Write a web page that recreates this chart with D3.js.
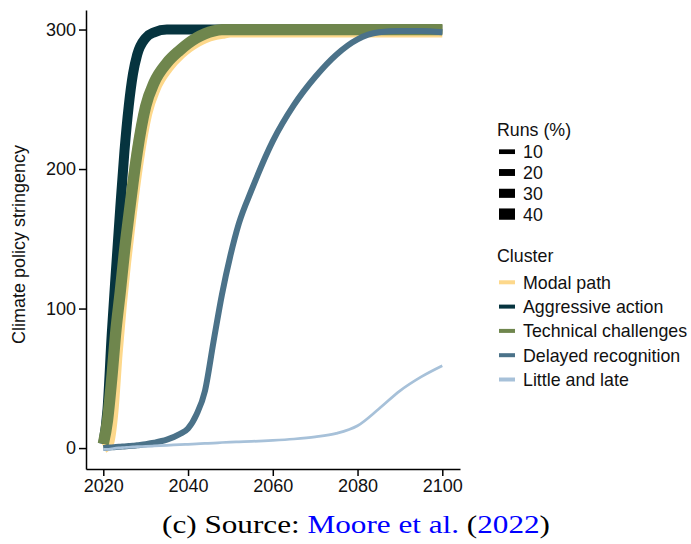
<!DOCTYPE html>
<html>
<head>
<meta charset="utf-8">
<script src="https://cdn.jsdelivr.net/npm/d3@7"></script>
<style>
  body { margin: 0; background: #fff; }
  svg { display: block; font-family: "Liberation Sans", Arial, sans-serif; }
</style>
</head>
<body>
<div id="chart"></div>
<script>
// values
const years = [2020, 2021, 2022, 2023, 2024, 2025, 2026, 2027, 2028, 2030, 2032, 2035, 2038, 2040,
    2042, 2044, 2046, 2048, 2050, 2052, 2055, 2060, 2065, 2070, 2075, 2080, 2085, 2090, 2095, 2100];

const modalPath   = [1, 4, 26, 68, 103, 133, 159, 184, 206, 240, 258, 273, 283, 288,
    292, 295, 297, 298, 299, 299, 299, 299, 299, 299, 299, 299, 299, 299, 299, 299];
const aggressive  = [3, 28, 82, 128, 172, 213, 245, 268, 282, 294, 298, 300, 300, 300,
    300, 300, 300, 300, 300, 300, 300, 300, 300, 300, 300, 300, 300, 300, 300, 300];
const technical   = [3, 20, 50, 85, 112, 141, 166, 190, 212, 245, 262, 276, 285, 290,
    294, 297, 299, 300, 300, 300, 300, 300, 300, 300, 300, 300, 300, 300, 300, 300];
const delayed     = [0, 0.3, 0.5, 0.8, 1, 1.2, 1.4, 1.6, 2, 2.8, 3.8, 6, 10, 14,
    24, 41, 76, 110, 138, 161, 185, 220, 246, 266, 282, 293, 298, 299, 299, 298];
const littleLate  = [-1, -1, -0.5, 0, 0.2, 0.4, 0.6, 0.8, 1, 1.2, 1.5, 2, 2.4, 2.7,
    3, 3.3, 3.6, 4, 4.3, 4.5, 4.8, 5.5, 6.5, 8, 10.5, 16, 28, 41, 51, 59];

const clusters = ["Modal path", "Aggressive action", "Technical challenges", "Delayed recognition", "Little and late"];
const clusterColors = ["#fdd88b", "#06343f", "#6f864d", "#4b7289", "#a7c1d9"];
const clusterRuns = [49, 34, 40, 16, 1];
const runLevels = [10, 20, 30, 40];

const xTicks = [2020, 2040, 2060, 2080, 2100];
const yTicks = [0, 100, 200, 300];

const series = [modalPath, aggressive, technical, delayed, littleLate].map((vals, i) => ({
    name: clusters[i],
    color: clusterColors[i],
    runs: clusterRuns[i],
    values: years.map((yr, j) => ({year: yr, value: vals[j]}))
}));

const width = 691, height = 544;
const margin = {top: 10, left: 86, right: 231, bottom: 75};

const svg = d3.select("#chart")
    .append("svg")
    .attr("width", width)
    .attr("height", height);

const x = d3.scaleLinear()
    .domain([2015.92, 2104.18])
    .range([margin.left, width - margin.right]);

const y = d3.scaleLinear()
    .domain([-15, 314])
    .range([height - margin.bottom, margin.top]);

const lineWidth = d3.scaleLinear()
    .domain([0, 40])
    .range([2.5, 11.3]);

// axes
const xAxis = svg.append("g")
    .attr("transform", `translate(0,${height - margin.bottom})`)
    .call(d3.axisBottom(x).tickValues(xTicks).tickFormat(d3.format("d")).tickSize(7).tickSizeOuter(0).tickPadding(3));

const yAxis = svg.append("g")
    .attr("transform", `translate(${margin.left},0)`)
    .call(d3.axisLeft(y).tickValues(yTicks).tickSize(7).tickSizeOuter(0).tickPadding(3));

[xAxis, yAxis].forEach(ax => {
    ax.select(".domain").attr("stroke", "#000").attr("stroke-width", 1.5);
    ax.selectAll(".tick line").attr("stroke", "#000").attr("stroke-width", 1.5);
    ax.selectAll(".tick text")
        .attr("fill", "#111")
        .style("font-size", "18px")
        .style("font-family", "'Liberation Sans', Arial, sans-serif");
});

svg.append("text")
    .attr("transform", `translate(25,${(y(-15) + y(314)) / 2 + 5}) rotate(-90)`)
    .attr("text-anchor", "middle")
    .style("font-size", "18px")
    .attr("fill", "#111")
    .text("Climate policy stringency");

// lines
const line = d3.line()
    .x(d => x(d.year))
    .y(d => y(d.value))
    .curve(d3.curveMonotoneX);

svg.selectAll(".cluster-line")
    .data(series)
    .enter().append("path")
    .attr("class", "cluster-line")
    .attr("d", d => line(d.values))
    .attr("fill", "none")
    .attr("stroke", d => d.color)
    .attr("stroke-width", d => lineWidth(d.runs))
    .attr("stroke-linejoin", "round");

// legend: runs
const lx = 499;
svg.append("text")
    .attr("x", lx - 2)
    .attr("y", 136)
    .style("font-size", "17.8px")
    .attr("fill", "#111")
    .text("Runs (%)");

const runItems = svg.selectAll(".run-item")
    .data(runLevels)
    .enter().append("g")
    .attr("class", "run-item")
    .attr("transform", (d, i) => `translate(${lx},${151.7 + i * 20.8})`);

runItems.append("rect")
    .attr("x", 0)
    .attr("y", d => -lineWidth(d) / 2)
    .attr("width", 16)
    .attr("height", d => lineWidth(d))
    .attr("fill", "#000");

runItems.append("text")
    .attr("x", 24)
    .attr("dy", "0.36em")
    .style("font-size", "17.8px")
    .attr("fill", "#111")
    .text(d => d);

// legend: cluster
svg.append("text")
    .attr("x", lx - 2)
    .attr("y", 262)
    .style("font-size", "17.8px")
    .attr("fill", "#111")
    .text("Cluster");

const clusterItems = svg.selectAll(".cluster-item")
    .data(series)
    .enter().append("g")
    .attr("class", "cluster-item")
    .attr("transform", (d, i) => `translate(${lx},${282.3 + i * 24.3})`);

clusterItems.append("rect")
    .attr("x", 0)
    .attr("y", -2)
    .attr("width", 16)
    .attr("height", 4)
    .attr("fill", d => d.color);

clusterItems.append("text")
    .attr("x", 24)
    .attr("dy", "0.36em")
    .style("font-size", "17.8px")
    .attr("fill", "#111")
    .text(d => d.name);

// caption
const caption = svg.append("text")
    .attr("x", 356)
    .attr("y", 532.5)
    .attr("text-anchor", "middle")
    .attr("textLength", 388)
    .attr("lengthAdjust", "spacingAndGlyphs")
    .style("font-family", "'Liberation Serif', 'DejaVu Serif', serif")
    .style("font-size", "25px")
    .attr("fill", "#000");

caption.append("tspan").text("(c) Source: ");
caption.append("tspan").attr("fill", "#0000ff").text("Moore et al.");
caption.append("tspan").text(" (");
caption.append("tspan").attr("fill", "#0000ff").text("2022");
caption.append("tspan").text(")");
</script>
</body>
</html>
